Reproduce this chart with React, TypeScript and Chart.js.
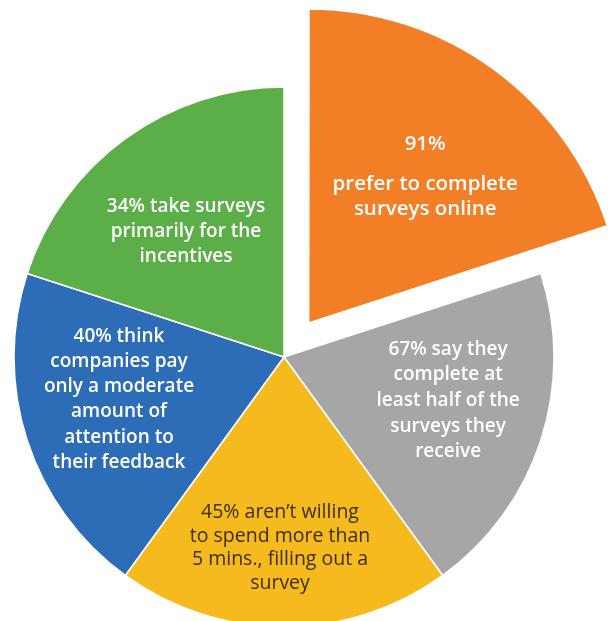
import React, { useEffect, useRef } from "react";
import { Chart, registerables } from "chart.js";

Chart.register(...registerables);

// ---- data ----
const categories = [
  "Prefer online surveys",
  "Complete half of surveys",
  "Won't spend more than 5 mins",
  "Moderate attention to feedback",
  "Surveys for incentives",
];
const sliceShares = [20, 20, 20, 20, 20];
const labelLines: string[][] = [
  ["91%", "", "prefer to complete", "surveys online"],
  ["67% say they", "complete at", "least half of the", "surveys they", "receive"],
  ["45% aren’t willing", "to spend more than", "5 mins., filling out a", "survey"],
  ["40% think", "companies pay", "only a moderate", "amount of", "attention to", "their feedback"],
  ["34% take surveys", "primarily for the", "incentives"],
];

// ---- styles ----
const sliceColors = ["#F27E26", "#A6A6A6", "#F5BA1D", "#2D6DB8", "#5BAE48"];
const textColors = ["#FFFFFF", "#FFFFFF", "#3F2D05", "#FFFFFF", "#FFFFFF"];
const fontSizes = [20.5, 19, 19.5, 19, 19];
const fontWeights = [600, 600, 500, 600, 600];
const lineHeights = [25, 25.6, 23.5, 25.2, 25];
const explodePx = [42, 0, 0, 0, 0];
const radiusScale = [312 / 270, 1, 1, 1, 1];
const labelRadius = [0.6, 0.629, 0.707, 0.631, 0.588];
const labelAngleShiftDeg = [2.5, -3.1, 1.2, 3.6, -2.1];
const FONT = '"Open Sans", "DejaVu Sans", sans-serif';

const radiusPlugin = {
  id: "sliceRadius",
  afterDatasetsUpdate(chart: any) {
    const meta = chart.getDatasetMeta(0);
    meta.data.forEach((arc: any, i: number) => {
      arc.outerRadius = arc.outerRadius * radiusScale[i];
    });
  },
};

const labelPlugin = {
  id: "sliceLabels",
  afterDatasetsDraw(chart: any) {
    const ctx = chart.ctx;
    const meta = chart.getDatasetMeta(0);
    meta.data.forEach((arc: any, i: number) => {
      const { x, y, startAngle, endAngle, outerRadius } = arc;
      const mid = (startAngle + endAngle) / 2;
      const off = (arc.options.offset || 0) / 4;
      const dirAngle = mid + (labelAngleShiftDeg[i] * Math.PI) / 180;
      const cx = x + Math.cos(mid) * off + Math.cos(dirAngle) * outerRadius * labelRadius[i];
      const cy = y + Math.sin(mid) * off + Math.sin(dirAngle) * outerRadius * labelRadius[i];
      const lines = labelLines[i];
      const lh = lineHeights[i];
      const ys: number[] = [];
      let acc = 0;
      lines.forEach((ln, k) => {
        if (k > 0) acc += ln === "" ? lh * 0.6 : lines[k - 1] === "" ? 0 : lh;
        if (k > 0 && ln !== "" && lines[k - 1] === "") acc += lh;
        ys.push(acc);
      });
      const firstY = ys[0];
      const lastY = ys[ys.length - 1];
      const shift = (firstY + lastY) / 2;
      ctx.save();
      ctx.font = `${fontWeights[i]} ${fontSizes[i]}px ${FONT}`;
      ctx.fillStyle = textColors[i];
      ctx.textAlign = "center";
      ctx.textBaseline = "middle";
      lines.forEach((ln, k) => {
        if (ln === "") return;
        ctx.fillText(ln, cx, cy + ys[k] - shift);
      });
      ctx.restore();
    });
  },
};

export default function App() {
  const canvasRef = useRef<HTMLCanvasElement | null>(null);

  useEffect(() => {
    if (!canvasRef.current) return;
    const chart = new Chart(canvasRef.current, {
      type: "pie",
      data: {
        labels: categories,
        datasets: [
          {
            data: sliceShares,
            backgroundColor: sliceColors,
            borderColor: "#FFFFFF",
            borderWidth: 1.5,
            offset: explodePx.map((p) => p * 4),
            hoverOffset: 0,
            clip: false,
          } as any,
        ],
      },
      options: {
        responsive: false,
        animation: false,
        events: [],
        radius: 270,
        layout: { padding: { left: 0, right: 45, top: 93, bottom: 0 } },
        plugins: {
          legend: { display: false },
          tooltip: { enabled: false },
          title: { display: false },
        },
      } as any,
      plugins: [radiusPlugin, labelPlugin],
    });
    return () => chart.destroy();
  }, []);

  return (
    <div style={{ position: "fixed", left: 0, top: 0, width: 613, height: 621, background: "#FFFFFF" }}>
      <canvas ref={canvasRef} width={613} height={621} style={{ width: 613, height: 621, display: "block" }} />
    </div>
  );
}
